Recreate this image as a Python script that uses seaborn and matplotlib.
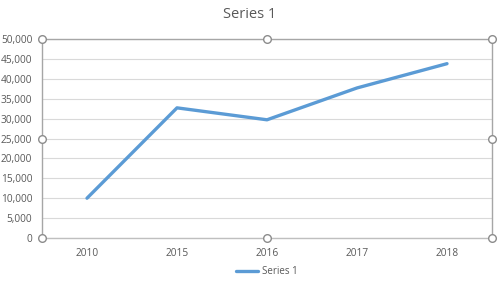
import matplotlib
matplotlib.use("Agg")
import matplotlib.pyplot as plt
import seaborn as sns
import pandas as pd
from matplotlib.ticker import FuncFormatter

years = ["2010", "2015", "2016", "2017", "2018"]
values = [10000, 32700, 29700, 37700, 43800]
series_name = "Series 1"

sns.set_theme(style="white")
plt.rcParams['font.family'] = ['Open Sans', 'DejaVu Sans']

df = pd.DataFrame({"year": years, "value": values})

fig = plt.figure(figsize=(5, 2.82), dpi=100)
ax = fig.add_axes([42/500, 1-238/282, 450/500, 199/282])

sns.lineplot(data=df, x="year", y="value", ax=ax, color="#5B9BD5",
             linewidth=2.4, label=series_name, sort=False)

ax.set_xlim(-0.5, len(years) - 0.5)
ax.set_ylim(0, 50000)
ax.set_yticks(range(0, 50001, 5000))
ax.yaxis.set_major_formatter(FuncFormatter(lambda v, p: f"{int(v):,}"))
ax.grid(axis="y", color="#d9d9d9", linewidth=0.8)
ax.set_axisbelow(True)
ax.set_xlabel("")
ax.set_ylabel("")
ax.tick_params(axis="y", labelsize=7.3, colors="#595959", length=0, pad=7)
ax.tick_params(axis="x", labelsize=7.3, colors="#595959", length=0, pad=7)
for s in ax.spines.values():
    s.set_color("#a6a6a6")
    s.set_linewidth(1.0)
ax.spines["bottom"].set_color("#bfbfbf")

# selection handles
for hx in (0, 0.5, 1):
    for hy in (0, 0.5, 1):
        if hx == 0.5 and hy == 0.5:
            continue
        ax.plot(hx, hy, marker="o", markersize=5.5, markerfacecolor="white",
                markeredgecolor="#8c8c8c", markeredgewidth=1.0,
                transform=ax.transAxes, clip_on=False, zorder=10)

fig.suptitle(series_name, y=1 - 15/282, fontsize=10.5, color="#595959", va="center")
leg = ax.legend(loc="center", bbox_to_anchor=(0.5, (238 - 272) / 199),
                frameon=False, fontsize=7, handlelength=2.2, handletextpad=0.4)
for t in leg.get_texts():
    t.set_color("#595959")

fig.savefig("out.png", dpi=100)
